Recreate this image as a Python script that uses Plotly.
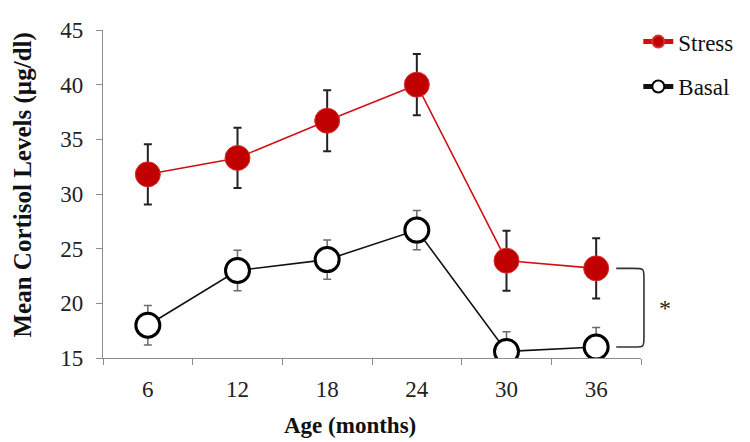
import plotly.graph_objects as go

ages = ["6", "12", "18", "24", "30", "36"]
stress = [31.8, 33.3, 36.7, 40.0, 23.9, 23.2]
stress_err = [2.75, 2.75, 2.8, 2.8, 2.75, 2.75]
basal = [18.0, 23.0, 24.0, 26.7, 15.6, 16.0]
basal_err = [1.8, 1.85, 1.8, 1.8, 1.8, 1.8]
y_ticks = [15, 20, 25, 30, 35, 40, 45]

FONT = "Liberation Serif"
AXIS_COLOR = "#8c8c8c"

fig = go.Figure()

fig.add_trace(go.Scatter(
    x=ages, y=stress, name="Stress", mode="lines+markers", legendgroup="s",
    line=dict(color="#d01010", width=1.6),
    marker=dict(size=25, color="#c00000", line=dict(color="#d83030", width=1)),
    error_y=dict(type="data", array=stress_err, visible=True,
                 color="#222222", thickness=2, width=4),
))
fig.add_trace(go.Scatter(
    x=ages, y=basal, name="Basal", mode="lines+markers", legendgroup="b",
    line=dict(color="#111111", width=1.6),
    marker=dict(size=24, color="white", line=dict(color="black", width=3)),
    error_y=dict(type="data", array=basal_err, visible=True,
                 color="#6a6a6a", thickness=1.5, width=4),
))

# significance bracket between the two 36-month points
x0, x1 = 0.954, 1.0055
rx, ry = 0.02, 0.9
yt, yb = stress[-1], basal[-1]
path = (f"M {x0},{yt} L {x1-rx},{yt} C {x1},{yt} {x1},{yt} {x1},{yt-ry} "
        f"L {x1},{yb+ry} C {x1},{yb} {x1},{yb} {x1-rx},{yb} L {x0},{yb}")
fig.add_shape(type="path", path=path, xref="paper", yref="y",
              line=dict(color="#333333", width=1.6))
fig.add_annotation(x=1.044, y=(yt + yb) / 2, xref="paper", yref="y",
                   xanchor="center", yanchor="middle",
                   text="*", showarrow=False,
                   font=dict(family=FONT, size=24, color="#222222"))

# axis titles
fig.add_annotation(x=-0.148, y=0.527, xref="paper", yref="paper",
                   xanchor="center", yanchor="middle",
                   text="<b>Mean Cortisol Levels (µg/dl)</b>", textangle=-90,
                   showarrow=False,
                   font=dict(family=FONT, size=25, color="#111111"))
fig.add_annotation(x=0.46, y=-0.205, xref="paper", yref="paper",
                   xanchor="center", yanchor="middle",
                   text="<b>Age (months)</b>", showarrow=False,
                   font=dict(family=FONT, size=23, color="#111111"))

fig.update_layout(
    width=742, height=434,
    margin=dict(l=95, r=106, t=12, b=84),
    paper_bgcolor="white", plot_bgcolor="white",
    font=dict(family=FONT, size=23, color="#222222"),
    showlegend=True,
    legend=dict(x=0.995, y=1.03, xanchor="left", yanchor="top",
                font=dict(family=FONT, size=23, color="#111111"),
                tracegroupgap=12, itemsizing="constant",
                traceorder="grouped",
                bgcolor="rgba(0,0,0,0)"),
    xaxis=dict(
        type="category", range=[-0.5, 5.5], tickson="boundaries",
        automargin=False,
        showline=True, linecolor=AXIS_COLOR, linewidth=1.2,
        ticks="outside", ticklen=6, tickcolor=AXIS_COLOR,
        ticklabelstandoff=10,
        showgrid=False, zeroline=False,
        tickfont=dict(family=FONT, size=23, color="#222222"),
    ),
    yaxis=dict(
        range=[15, 45], tickvals=y_ticks, automargin=False,
        showline=True, linecolor=AXIS_COLOR, linewidth=1.2,
        ticks="outside", ticklen=6, tickcolor=AXIS_COLOR,
        ticklabelstandoff=8,
        showgrid=False, zeroline=False,
        tickfont=dict(family=FONT, size=23, color="#222222"),
    ),
)

fig.write_html("out.html")
